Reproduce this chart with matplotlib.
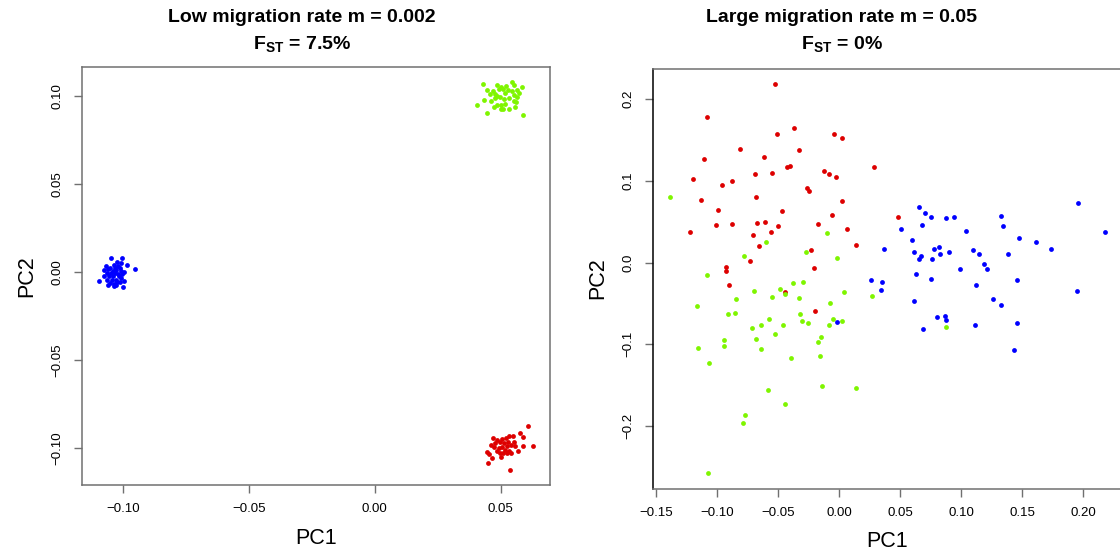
"""
PCA of simulated populations under low vs. large migration rate.
"""
import numpy as np
import matplotlib
matplotlib.use('Agg')
import matplotlib.pyplot as plt
from matplotlib.ticker import FuncFormatter

plt.rcParams.update({
    'font.family': ['Liberation Sans', 'DejaVu Sans'],
    'mathtext.fontset': 'custom',
    'mathtext.rm': 'Liberation Sans',
    'mathtext.bf': 'Liberation Sans:bold',
})

# ---------------------------------------------------------------
# Data
# ---------------------------------------------------------------
# Left panel: m = 0.002
low_blue_x = [-0.1048, -0.1003, -0.1025, -0.1007, -0.0983, -0.1067, -0.1037, -0.1021, -0.1053, -0.1030,
              -0.1013, -0.0952, -0.1074, -0.1058, -0.1041, -0.1026, -0.1008, -0.0997, -0.1063, -0.1048,
              -0.1032, -0.1019, -0.1003, -0.1077, -0.1056, -0.1040, -0.1015, -0.1007, -0.1094, -0.1063,
              -0.1045, -0.1029, -0.1011, -0.0995, -0.1053, -0.1037, -0.1024, -0.1060, -0.1034, -0.1026,
              -0.1000]
low_blue_y = [0.0083, 0.0079, 0.0060, 0.0051, 0.0041, 0.0036, 0.0040, 0.0036, 0.0024, 0.0024,
              0.0024, 0.0019, 0.0011, 0.0015, 0.0009, 0.0013, 0.0006, 0.0000, -0.0004, -0.0006,
              -0.0006, -0.0009, -0.0013, -0.0023, -0.0021, -0.0023, -0.0024, -0.0036, -0.0049, -0.0043,
              -0.0047, -0.0047, -0.0055, -0.0051, -0.0062, -0.0066, -0.0058, -0.0073, -0.0081, -0.0075,
              -0.0083]

low_green_x = [0.0429, 0.0484, 0.0544, 0.0503, 0.0520, 0.0553, 0.0586, 0.0447, 0.0470, 0.0493,
               0.0509, 0.0529, 0.0546, 0.0566, 0.0458, 0.0476, 0.0487, 0.0516, 0.0553, 0.0573,
               0.0479, 0.0497, 0.0513, 0.0532, 0.0434, 0.0460, 0.0553, 0.0566, 0.0560, 0.0405,
               0.0474, 0.0487, 0.0503, 0.0516, 0.0500, 0.0511, 0.0534, 0.0556, 0.0444, 0.0587]
low_green_y = [0.1068, 0.1060, 0.1077, 0.1053, 0.1055, 0.1060, 0.1049, 0.1032, 0.1026, 0.1041,
               0.1038, 0.1034, 0.1026, 0.1032, 0.1013, 0.1009, 0.1000, 0.1019, 0.1008, 0.1019,
               0.0989, 0.0992, 0.0985, 0.0989, 0.0977, 0.0970, 0.0972, 0.0992, 0.0966, 0.0947,
               0.0938, 0.0947, 0.0951, 0.0957, 0.0928, 0.0928, 0.0925, 0.0940, 0.0906, 0.0891]

low_red_x = [0.0610, 0.0575, 0.0468, 0.0587, 0.0487, 0.0507, 0.0521, 0.0534, 0.0550, 0.0460,
             0.0479, 0.0497, 0.0513, 0.0529, 0.0553, 0.0587, 0.0627, 0.0474, 0.0492, 0.0505,
             0.0524, 0.0540, 0.0556, 0.0484, 0.0516, 0.0534, 0.0569, 0.0444, 0.0497, 0.0511,
             0.0526, 0.0542, 0.0452, 0.0503, 0.0466, 0.0450, 0.0537]
low_red_y = [-0.0874, -0.0911, -0.0944, -0.0938, -0.0951, -0.0947, -0.0942, -0.0930, -0.0932, -0.0979,
             -0.0970, -0.0964, -0.0968, -0.0962, -0.0964, -0.0989, -0.0987, -0.0992, -0.0996, -0.0992,
             -0.0989, -0.0979, -0.0989, -0.1015, -0.1011, -0.1015, -0.1015, -0.1024, -0.1026, -0.1030,
             -0.1030, -0.1026, -0.1034, -0.1049, -0.1058, -0.1083, -0.1121]

# Right panel: m = 0.05
high_red_x = [-0.0522, -0.1082, -0.0366, -0.0511, -0.0038, 0.0022, -0.0811, -0.0331, -0.1101, -0.0612,
              -0.0429, -0.0402, 0.0290, -0.0120, -0.0079, -0.0025, -0.0686, -0.0546, -0.1197, -0.0874,
              -0.0954, -0.0260, -0.0249, -0.0675, -0.1131, 0.0027, -0.0992, -0.0467, -0.0060, -0.1003,
              -0.0872, -0.0669, -0.0607, -0.0497, -0.0172, 0.0068, -0.1216, -0.0705, -0.0557, -0.0658,
              0.0142, -0.0230, -0.0730, -0.0926, -0.0921, -0.0208, -0.0902, -0.0445, -0.0194, 0.0486]
high_red_y = [0.2182, 0.1783, 0.1644, 0.1571, 0.1571, 0.1526, 0.1383, 0.1375, 0.1269, 0.1286,
              0.1172, 0.1184, 0.1172, 0.1119, 0.1078, 0.1049, 0.1078, 0.1094, 0.1017, 0.0992,
              0.0947, 0.0907, 0.0870, 0.0801, 0.0760, 0.0752, 0.0638, 0.0626, 0.0577, 0.0454,
              0.0475, 0.0483, 0.0491, 0.0446, 0.0475, 0.0414, 0.0369, 0.0336, 0.0369, 0.0198,
              0.0218, 0.0153, 0.0018, -0.0055, -0.0104, -0.0063, -0.0275, -0.0357, -0.0597, 0.0552]

high_green_x = [-0.1380, -0.0096, -0.0601, -0.0776, -0.0268, -0.0016, -0.1082, -0.0374, -0.0295, -0.0697,
                -0.0481, -0.0440, -0.0549, -0.0844, -0.0325, 0.0038, -0.1158, -0.0074, -0.0907, -0.0855,
                -0.0322, -0.0574, -0.0303, -0.0251, -0.0046, 0.0025, -0.0079, -0.0713, -0.0637, -0.0462,
                -0.0683, -0.0525, -0.0148, -0.0169, -0.0937, -0.0937, -0.1150, -0.0637, -0.0396, -0.0156,
                -0.1066, -0.0142, -0.0577, 0.0137, -0.0445, -0.0770, -0.0787, -0.1071, 0.0270, 0.0877]
high_green_y = [0.0801, 0.0357, 0.0255, 0.0084, 0.0132, 0.0055, -0.0153, -0.0247, -0.0238, -0.0344,
                -0.0328, -0.0381, -0.0418, -0.0442, -0.0438, -0.0365, -0.0528, -0.0499, -0.0630, -0.0613,
                -0.0626, -0.0695, -0.0711, -0.0740, -0.0695, -0.0719, -0.0764, -0.0797, -0.0764, -0.0760,
                -0.0931, -0.0878, -0.0907, -0.0968, -0.0947, -0.1017, -0.1045, -0.1053, -0.1163, -0.1139,
                -0.1233, -0.1506, -0.1555, -0.1530, -0.1726, -0.1864, -0.1958, -0.2573, -0.0414, -0.0789]

high_blue_x = [-0.0014, 0.0658, 0.0702, 0.0751, 0.0877, 0.0943, 0.1328, 0.1342, 0.1959, 0.2175,
               0.0678, 0.0505, 0.1041, 0.0601, 0.1470, 0.1615, 0.1732, 0.0366, 0.0612, 0.0779,
               0.0820, 0.0828, 0.0904, 0.0675, 0.0656, 0.0765, 0.1096, 0.1150, 0.1388, 0.1186,
               0.1208, 0.0995, 0.0631, 0.0751, 0.0260, 0.0352, 0.0344, 0.1456, 0.1123, 0.1945,
               0.0617, 0.1260, 0.1325, 0.0801, 0.0866, 0.0874, 0.0686, 0.1117, 0.1456, 0.1437]
high_blue_y = [-0.0723, 0.0683, 0.0605, 0.0556, 0.0548, 0.0560, 0.0564, 0.0446, 0.0731, 0.0369,
               0.0462, 0.0414, 0.0385, 0.0271, 0.0300, 0.0251, 0.0165, 0.0169, 0.0132, 0.0161,
               0.0189, 0.0100, 0.0124, 0.0084, 0.0047, 0.0039, 0.0157, 0.0108, 0.0108, -0.0018,
               -0.0083, -0.0075, -0.0137, -0.0202, -0.0214, -0.0234, -0.0332, -0.0218, -0.0275, -0.0352,
               -0.0475, -0.0446, -0.0515, -0.0662, -0.0650, -0.0707, -0.0809, -0.0764, -0.0740, -0.1070]

low_xticks = [-0.10, -0.05, 0.00, 0.05]
low_yticks = [-0.10, -0.05, 0.00, 0.05, 0.10]
high_xticks = [-0.15, -0.10, -0.05, 0.00, 0.05, 0.10, 0.15, 0.20]
high_yticks = [-0.2, -0.1, 0.0, 0.1, 0.2]

titles = ['Low migration rate m = 0.002', 'Large migration rate m = 0.05']
fst_labels = ['7.5%', '0%']

BLUE = '#0000ff'
GREEN = '#7ff500'
RED = '#dd0000'
FRAME = '#707070'

# ---------------------------------------------------------------
# Figure
# ---------------------------------------------------------------
W, H = 1120, 557
fig = plt.figure(figsize=(W / 100, H / 100), dpi=100)

def px_axes(l, t, r, b):
    return fig.add_axes([l / W, 1 - b / H, (r - l) / W, (b - t) / H])

def fmt(decimals):
    return FuncFormatter(lambda v, pos: ('%.*f' % (decimals, v)).replace('-', '\u2212'))

ax1 = px_axes(82, 67, 550, 485)
ax2 = px_axes(653, 68.5, 1122, 488.5)

dot = dict(s=12, linewidths=0)
ax1.scatter(low_blue_x, low_blue_y, color=BLUE, **dot)
ax1.scatter(low_green_x, low_green_y, color=GREEN, **dot)
ax1.scatter(low_red_x, low_red_y, color=RED, **dot)

ax2.scatter(high_red_x, high_red_y, color=RED, **dot)
ax2.scatter(high_green_x, high_green_y, color=GREEN, **dot)
ax2.scatter(high_blue_x, high_blue_y, color=BLUE, **dot)

for ax, xt, yt, xd, yd in [(ax1, low_xticks, low_yticks, 2, 2),
                           (ax2, high_xticks, high_yticks, 2, 1)]:
    ax.margins(0.04)
    ax.set_xticks(xt)
    ax.set_yticks(yt)
    ax.xaxis.set_major_formatter(fmt(xd))
    ax.yaxis.set_major_formatter(fmt(yd))
    ax.tick_params(length=5.5, width=1, color=FRAME, labelsize=9.5, pad=7.5)
    ax.tick_params(axis='y', pad=8)
    for lab in ax.get_yticklabels():
        lab.set_rotation(90)
        lab.set_va('center')
    for sp in ax.spines.values():
        sp.set_color(FRAME)
        sp.set_linewidth(1.1)
    ax.set_xlabel('PC1', fontsize=15.5, labelpad=9)
    ax.set_ylabel('PC2', fontsize=15.5, labelpad=10)

ax2.spines['left'].set_color('black')

# titles (two lines each)
for cx, t, f in [(302, titles[0], fst_labels[0]), (842, titles[1], fst_labels[1])]:
    fig.text(cx / W, 1 - 17 / H, t, ha='center', va='center',
             fontsize=14, fontweight='bold')
    fig.text(cx / W, 1 - 44 / H, r'$\mathbf{F_{ST}}$' + ' = ' + f, ha='center', va='center',
             fontsize=14, fontweight='bold')

fig.savefig('out.png', dpi=100)
